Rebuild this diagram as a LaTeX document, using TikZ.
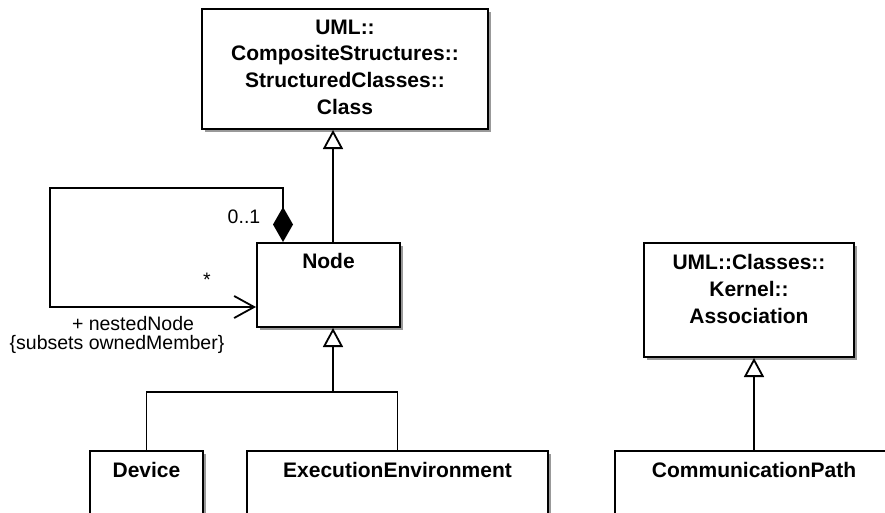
\documentclass[tikz,border=0pt]{standalone}
\usepackage{fontspec}
\setmainfont{Liberation Sans}
\usetikzlibrary{arrows.meta,shadows}
\begin{document}
\begin{tikzpicture}[x=1pt,y=-1pt,
  box/.style={draw, line width=2pt, fill=white, inner sep=0pt,
    drop shadow={shadow xshift=2.5pt, shadow yshift=-2.5pt, fill=black!40, opacity=1}},
  ct/.style={font=\bfseries\fontsize{21}{26.8}\selectfont, align=center, inner sep=0pt, anchor=north},
  lab/.style={font=\fontsize{19.5}{23}\selectfont, inner sep=0pt},
  conn/.style={line width=1.8pt},
  gen/.style={conn, -{Triangle[open, length=19pt, width=20pt, fill=white]}},
  comp/.style={conn, {Diamond[length=35pt, width=20pt]}-{Straight Barb[length=20pt, width=22pt]}}
]
\useasboundingbox (0,0) rectangle (885,512);
\fill[white] (0,0) rectangle (885,512);
\clip (0,0) rectangle (885,512);

% classes
\node[box, minimum width=286pt, minimum height=120pt] (cls) at (345,69) {};
\node[ct] (cls-t) at ([yshift=-11.5pt]cls.north) {UML::\\CompositeStructures::\\StructuredClasses::\\Class};

\node[box, minimum width=143pt, minimum height=84pt] (node) at (328.5,285) {};
\node[ct] (node-t) at ([yshift=-11.5pt]node.north) {Node};

\node[box, minimum width=210pt, minimum height=114pt] (assoc) at (749,300) {};
\node[ct] (assoc-t) at ([yshift=-12.5pt]assoc.north) {UML::Classes::\\Kernel::\\Association};

\node[box, minimum width=113pt, minimum height=79pt] (dev) at (146.5,490.5) {};
\node[ct] (dev-t) at ([yshift=-12.5pt]dev.north) {Device};

\node[box, minimum width=301pt, minimum height=79pt] (ee) at (397.5,490.5) {};
\node[ct] (ee-t) at ([yshift=-12.5pt]ee.north) {ExecutionEnvironment};

\node[box, minimum width=278pt, minimum height=79pt] (cp) at (754,490.5) {};
\node[ct] (cp-t) at ([yshift=-12.5pt]cp.north) {CommunicationPath};

% generalizations
\coordinate (gx) at (333,0);
\draw[gen] (node.north -| gx) -- (cls.south -| gx);
\coordinate (j) at (333,392);
\draw[gen] (j) -- (node.south -| j);
\draw[conn] (dev.north) |- (j);
\draw[conn] (ee.north) |- (j);
\draw[gen] (cp.north) -- (assoc.south -| cp.north);

% self composition
\coordinate (dx) at (283,0);
\coordinate (lt) at (50,188);
\coordinate (ly) at (0,307);
\draw[comp] (node.north -| dx) |- (lt) |- (node.west |- ly);

% labels
\node[lab] (m01) at (244,217) {0..1};
\node[lab] (mstar) at (207,280) {*};
\node[lab] (role) at (133,324) {+ nestedNode};
\node[lab] (cons) at (117,344) {\{subsets ownedMember\}};
\end{tikzpicture}
\end{document}
